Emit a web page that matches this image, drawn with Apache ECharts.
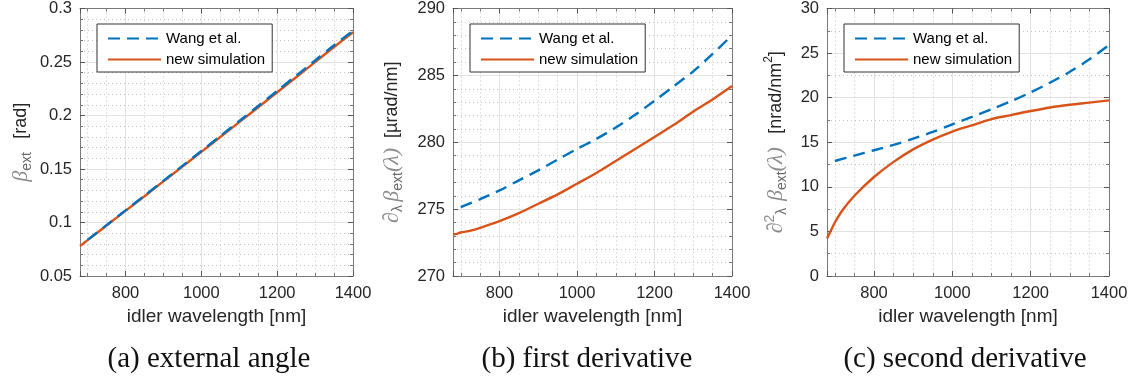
<!DOCTYPE html>
<html>
<head>
<meta charset="utf-8">
<script src="https://cdn.jsdelivr.net/npm/echarts@6/dist/echarts.min.js"></script>
<style>
html, body { margin: 0; padding: 0; background: #fff; }
#chart { width: 1138px; height: 385px; }
</style>
</head>
<body>
<div id="chart"></div>
<script>
// idler wavelength [nm]
const nmSim = [680, 690, 700, 720, 750, 800, 850, 900, 950, 1000, 1050, 1100, 1150, 1200, 1250, 1300, 1350, 1400];
const nmWang = [700, 750, 800, 850, 900, 950, 1000, 1050, 1100, 1150, 1200, 1250, 1300, 1350, 1400];

// (a) external angle [rad]
const angleSim = [0.0780, 0.0807, 0.0835, 0.0889, 0.0972, 0.1109, 0.1246, 0.1384, 0.1522, 0.1660, 0.1799, 0.1938, 0.2077, 0.2217, 0.2358, 0.2499, 0.2640, 0.2778];
const angleWang = [0.0838, 0.0975, 0.1113, 0.1251, 0.1390, 0.1529, 0.1668, 0.1808, 0.1948, 0.2089, 0.2230, 0.2372, 0.2514, 0.2657, 0.2792];

// (b) first derivative [µrad/nm]
const firstSim = [273.1, 273.15, 273.25, 273.35, 273.6, 274.1, 274.7, 275.4, 276.1, 276.9, 277.7, 278.6, 279.5, 280.4, 281.3, 282.3, 283.2, 284.2];
const firstWang = [275.15, 275.75, 276.4, 277.15, 277.9, 278.7, 279.5, 280.25, 281.1, 282.05, 283.1, 284.2, 285.3, 286.6, 288.0];

// (c) second derivative [nrad/nm²]
const secondSim = [4.2, 5.1, 6.0, 7.4, 9.0, 11.1, 12.8, 14.2, 15.3, 16.2, 16.9, 17.6, 18.05, 18.5, 18.9, 19.2, 19.45, 19.7];
const secondWang = [12.9, 13.5, 14.1, 14.7, 15.4, 16.15, 17.0, 17.85, 18.7, 19.6, 20.6, 21.7, 22.9, 24.3, 25.9];

const xTicks = [800, 1000, 1200, 1400];
const captions = ['(a) external angle', '(b) first derivative', '(c) second derivative'];
const seriesNames = ['Wang et al.', 'new simulation'];

const sans = 'Liberation Sans, Arial, sans-serif';
const blue = '#0072BD';
const orange = '#D95319';

const grids = [
   { left: 80, top: 8, width: 273, height: 268 },
   { left: 453, top: 8, width: 279, height: 268 },
   { left: 827, top: 8, width: 282, height: 268 }
];
const captionX = [209, 587, 965];
const yRanges = [
   { min: 0.05, max: 0.3, interval: 0.05, minor: 5 },
   { min: 270, max: 290, interval: 5, minor: 5 },
   { min: 0, max: 30, interval: 5, minor: 2 }
];
const yNames = [
   '{m|β}{s|ext}    {u|[rad]}',
   '{m|∂}{s|λ} {m|β}{s|ext}{m|(λ)}   {u|[µrad/nm]}',
   '{m|∂}{p|2}{s|λ}  {m|β}{s|ext}{m|(λ)}    {u|[nrad/nm}{up|2}{u|]}'
];
const yGaps = [46, 48, 38];

const nameRich = {
   m: { fontFamily: 'Liberation Serif, serif', fontStyle: 'italic', fontSize: 22, color: '#8c8c8c', lineHeight: 26 },
   s: { fontFamily: sans, fontSize: 14, color: '#6a6a6a', lineHeight: 14, verticalAlign: 'bottom' },
   p: { fontFamily: sans, fontSize: 14, color: '#8c8c8c', lineHeight: 14, verticalAlign: 'top' },
   u: { fontFamily: sans, fontSize: 18, color: '#262626', lineHeight: 26 },
   up: { fontFamily: sans, fontSize: 12, color: '#262626', lineHeight: 12, verticalAlign: 'top' }
};

const makeX = (i, top) => ({
   type: 'value',
   gridIndex: i,
   position: top ? 'top' : 'bottom',
   min: 680,
   max: 1400,
   minInterval: 200,
   maxInterval: 200,
   axisLine: { show: true, onZero: false, lineStyle: { color: '#7a7a7a', width: 1 } },
   axisTick: { inside: true, length: 5, lineStyle: { color: '#555' } },
   minorTick: { show: true, splitNumber: 4, length: 3, lineStyle: { color: '#777' } },
   axisLabel: {
      show: !top, customValues: xTicks, margin: 9,
      formatter: (v) => String(v),
      color: '#262626', fontSize: 16.5, fontFamily: sans
   },
   splitLine: { show: !top, lineStyle: { color: '#e2e2e2' } },
   minorSplitLine: { show: !top, lineStyle: { color: '#c4c4c4', type: [1, 3] } },
   name: top ? '' : 'idler wavelength [nm]',
   nameLocation: 'middle',
   nameGap: 31,
   nameTextStyle: { color: '#262626', fontSize: 19, fontFamily: sans }
});

const makeY = (i, right) => ({
   type: 'value',
   gridIndex: i,
   position: right ? 'right' : 'left',
   min: yRanges[i].min,
   max: yRanges[i].max,
   interval: yRanges[i].interval,
   axisLine: { show: true, onZero: false, lineStyle: { color: '#7a7a7a', width: 1 } },
   axisTick: { inside: true, length: 5, lineStyle: { color: '#555' } },
   minorTick: { show: true, splitNumber: yRanges[i].minor, length: 3, lineStyle: { color: '#777' } },
   axisLabel: { show: !right, margin: 8, color: '#262626', fontSize: 16.5, fontFamily: sans },
   splitLine: { show: !right, lineStyle: { color: '#e2e2e2' } },
   minorSplitLine: { show: !right, lineStyle: { color: '#c4c4c4', type: [1, 3] } },
   name: right ? '' : yNames[i],
   nameLocation: 'middle',
   nameGap: yGaps[i],
   nameTextStyle: { rich: nameRich }
});

const panels = [
   [angleWang, angleSim],
   [firstWang, firstSim],
   [secondWang, secondSim]
];

const series = [];
panels.forEach(([wang, sim], i) => {
   series.push({
      name: seriesNames[1], type: 'line', xAxisIndex: i, yAxisIndex: i,
      symbol: 'none', smooth: 0.3, z: 2,
      lineStyle: { color: orange, width: 2.4 }, itemStyle: { color: orange },
      data: nmSim.map((x, k) => [x, sim[k]])
   });
   series.push({
      name: seriesNames[0], type: 'line', xAxisIndex: i, yAxisIndex: i,
      symbol: 'none', smooth: 0.3, z: 3,
      lineStyle: { color: blue, width: 2.4, type: [12, 7] }, itemStyle: { color: blue },
      data: nmWang.map((x, k) => [x, wang[k]])
   });
});

const legends = grids.map((g) => ({
   data: seriesNames,
   orient: 'vertical',
   left: g.left + 17,
   top: 24,
   itemWidth: 53,
   itemHeight: 12,
   itemGap: 6,
   padding: [7, 7, 5, 10],
   borderColor: '#333',
   borderWidth: 1,
   backgroundColor: '#fff',
   selectedMode: false,
   itemStyle: { color: 'rgba(0,0,0,0)', opacity: 0, borderWidth: 0 },
   textStyle: { color: '#000', fontSize: 15, fontFamily: sans }
}));

const captionText = captions.map((t, i) => ({
   type: 'text',
   x: captionX[i],
   y: 359,
   style: {
      text: t, fill: '#111',
      font: '29px "Liberation Serif", serif',
      align: 'center', verticalAlign: 'middle',
      textAlign: 'center', textVerticalAlign: 'middle'
   }
}));

const chart = echarts.init(document.getElementById('chart'));
chart.setOption({
   animation: false,
   grid: grids,
   xAxis: [0, 1, 2].map(i => makeX(i, false)).concat([0, 1, 2].map(i => makeX(i, true))),
   yAxis: [0, 1, 2].map(i => makeY(i, false)).concat([0, 1, 2].map(i => makeY(i, true))),
   legend: legends,
   series,
   graphic: captionText
});
</script>
</body>
</html>
